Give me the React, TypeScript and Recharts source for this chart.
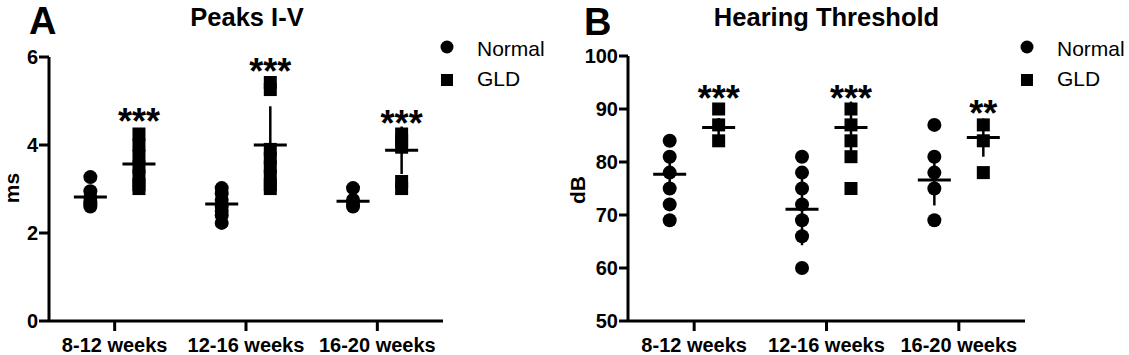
import { ScatterChart, Scatter, XAxis, YAxis, ErrorBar } from 'recharts';

const FONT = "'Liberation Sans', Arial, Helvetica, sans-serif";

const groups = ['8-12 weeks', '12-16 weeks', '16-20 weeks'];

// Panel A - Peaks I-V (ms)
const peaksNormal = [
  [3.27, 2.95, 2.8, 2.7, 2.65, 2.6],
  [3.02, 2.9, 2.75, 2.6, 2.5, 2.4, 2.23],
  [3.02, 2.75, 2.65, 2.6],
];
const peaksGld = [
  [4.25, 4.0, 3.75, 3.5, 3.3, 3.1, 3.01],
  [5.42, 5.26, 3.9, 3.7, 3.5, 3.3, 3.1, 3.01],
  [4.25, 4.1, 3.95, 3.17, 3.01],
];
const peaksNormalMean = [2.82, 2.66, 2.72];
const peaksNormalSd = [0.1, 0.12, 0.08];
const peaksGldMean = [3.57, 4.0, 3.88];
const peaksGldSd = [0.22, 0.88, 0.54];
const peaksStars = ['***', '***', '***'];
const peaksStarsAt = [4.73, 5.86, 4.68];
const peaksTicks = [0, 2, 4, 6];

// Panel B - Hearing Threshold (dB)
const hearingNormal = [
  [84, 81, 78, 75, 72, 69],
  [81, 78, 75, 72, 69, 66, 60],
  [87, 81, 78, 75, 69],
];
const hearingGld = [
  [90, 87, 84],
  [90, 87, 84, 81, 75],
  [87, 84, 78],
];
const hearingNormalMean = [77.7, 71.1, 76.6];
const hearingNormalSd = [2.3, 6.8, 4.8];
const hearingGldMean = [86.5, 86.5, 84.6];
const hearingGldSd = [1.8, 4.9, 3.6];
const hearingStars = ['***', '***', '**'];
const hearingStarsAt = [93.6, 93.6, 90.8];
const hearingTicks = [50, 60, 70, 80, 90, 100];

const DODGE = 0.185;

const toPoints = (values: number[][], side: number) =>
  values.flatMap((vals, i) => vals.map((v) => ({ x: i + 0.5 + side * DODGE, y: v })));

const toMeans = (means: number[], sds: number[], side: number) =>
  means.map((m, i) => ({ x: i + 0.5 + side * DODGE, y: m, sd: sds[i] }));

const toStars = (labels: string[], at: number[]) =>
  labels.map((s, i) => ({ x: i + 0.5 + DODGE, y: at[i], label: s }));

const Dot = (p: any) => <circle cx={p.cx} cy={p.cy} r={7} fill="#000" />;
const Square = (p: any) => <rect x={p.cx - 6.5} y={p.cy - 6.5} width={13} height={13} fill="#000" />;
const MeanLine = (p: any) => (
  <line x1={p.cx - 16.5} x2={p.cx + 16.5} y1={p.cy} y2={p.cy} stroke="#000" strokeWidth={3} />
);
const Stars = (p: any) => (
  <text x={p.cx} y={p.cy + 21} textAnchor="middle" fontSize={36} fontWeight="bold" fontFamily={FONT} fill="#000">
    {p.payload.label}
  </text>
);

const tickStyle = { fontSize: 20, fontWeight: 'bold', fill: '#000', fontFamily: FONT };

const Panel = ({ left, width, yWidth, marginRight, top, domain, ticks, yTickSize, normal, gld, normalMean, normalSd, gldMean, gldSd, stars, starsAt }: any) => (
  <div style={{ position: 'absolute', left, top: 0 }}>
    <ScatterChart width={width} height={355} margin={{ top, right: marginRight, bottom: 0, left: 0 }}>
      <XAxis
        type="number"
        dataKey="x"
        domain={[0, 3]}
        ticks={[0.5, 1.5, 2.5]}
        interval={0}
        tickFormatter={(v: number) => groups[Math.floor(v)]}
        height={34}
        tickSize={10}
        tickMargin={7}
        axisLine={{ stroke: '#000', strokeWidth: 3 }}
        tickLine={{ stroke: '#000', strokeWidth: 3 }}
        tick={tickStyle}
      />
      <YAxis
        type="number"
        dataKey="y"
        domain={domain}
        ticks={ticks}
        interval={0}
        width={yWidth}
        tickSize={yTickSize}
        tickMargin={1}
        axisLine={{ stroke: '#000', strokeWidth: 3 }}
        tickLine={{ stroke: '#000', strokeWidth: 3 }}
        tick={tickStyle}
      />
      <Scatter name="Normal" data={toPoints(normal, -1)} shape={Dot} isAnimationActive={false} />
      <Scatter name="GLD" data={toPoints(gld, 1)} shape={Square} isAnimationActive={false} />
      <Scatter name="Normal mean" data={toMeans(normalMean, normalSd, -1)} shape={MeanLine} isAnimationActive={false}>
        <ErrorBar dataKey="sd" direction="y" width={0} stroke="#000" strokeWidth={2.5} isAnimationActive={false} />
      </Scatter>
      <Scatter name="GLD mean" data={toMeans(gldMean, gldSd, 1)} shape={MeanLine} isAnimationActive={false}>
        <ErrorBar dataKey="sd" direction="y" width={0} stroke="#000" strokeWidth={2.5} isAnimationActive={false} />
      </Scatter>
      <Scatter name="sig" data={toStars(stars, starsAt)} shape={Stars} isAnimationActive={false} />
    </ScatterChart>
  </div>
);

const abs = (left: number, top: number, extra: any = {}) => ({
  position: 'absolute' as const,
  left,
  top,
  fontFamily: FONT,
  color: '#000',
  lineHeight: 1,
  whiteSpace: 'nowrap' as const,
  ...extra,
});

const Legend = ({ iconX, textX }: { iconX: number; textX: number }) => (
  <>
    <svg style={{ position: 'absolute', left: iconX - 8, top: 39 }} width={16} height={16}>
      <circle cx={8} cy={8} r={6.5} fill="#000" />
    </svg>
    <svg style={{ position: 'absolute', left: iconX - 8, top: 72 }} width={16} height={16}>
      <rect x={2} y={2} width={12} height={12} fill="#000" />
    </svg>
    <div style={abs(textX, 38, { fontSize: 21 })}>Normal</div>
    <div style={abs(textX, 68, { fontSize: 21 })}>GLD</div>
  </>
);

// rotated axis title; baseline sits at x = baseX
const AxisTitle = ({ baseX, cy, text }: { baseX: number; cy: number; text: string }) => (
  <text
    transform={`translate(${baseX},${cy}) rotate(-90)`}
    textAnchor="middle"
    fontSize={21}
    fontWeight="bold"
    fontFamily={FONT}
    fill="#000"
  >
    {text}
  </text>
);

export default function App() {
  return (
    <div style={{ position: 'absolute', left: 0, top: 0, width: 1129, height: 355, background: '#fff', overflow: 'hidden' }}>
      <Panel
        left={0}
        width={560}
        yWidth={49}
        marginRight={117}
        top={57}
        domain={[0, 6]}
        ticks={peaksTicks}
        yTickSize={10}
        normal={peaksNormal}
        gld={peaksGld}
        normalMean={peaksNormalMean}
        normalSd={peaksNormalSd}
        gldMean={peaksGldMean}
        gldSd={peaksGldSd}
        stars={peaksStars}
        starsAt={peaksStarsAt}
      />
      <Panel
        left={560}
        width={569}
        yWidth={68}
        marginRight={104}
        top={56}
        domain={[50, 100]}
        ticks={hearingTicks}
        yTickSize={9}
        normal={hearingNormal}
        gld={hearingGld}
        normalMean={hearingNormalMean}
        normalSd={hearingNormalSd}
        gldMean={hearingGldMean}
        gldSd={hearingGldSd}
        stars={hearingStars}
        starsAt={hearingStarsAt}
      />
      <svg style={{ position: 'absolute', left: 0, top: 0, pointerEvents: 'none' }} width={1129} height={355}>
        <AxisTitle baseX={19} cy={188} text="ms" />
        <AxisTitle baseX={585} cy={190} text="dB" />
      </svg>
      <div style={abs(29, 6, { fontSize: 38, fontWeight: 'bold', lineHeight: 0.8 })}>A</div>
      <div style={abs(584, 7, { fontSize: 38, fontWeight: 'bold', lineHeight: 0.8 })}>B</div>
      <div style={abs(147, 4.6, { width: 200, textAlign: 'center', fontSize: 25.5, fontWeight: 'bold' })}>Peaks I-V</div>
      <div style={abs(676.5, 4.6, { width: 300, textAlign: 'center', fontSize: 25.5, fontWeight: 'bold' })}>
        Hearing Threshold
      </div>
      <Legend iconX={447} textX={477} />
      <Legend iconX={1027} textX={1057} />
    </div>
  );
}
